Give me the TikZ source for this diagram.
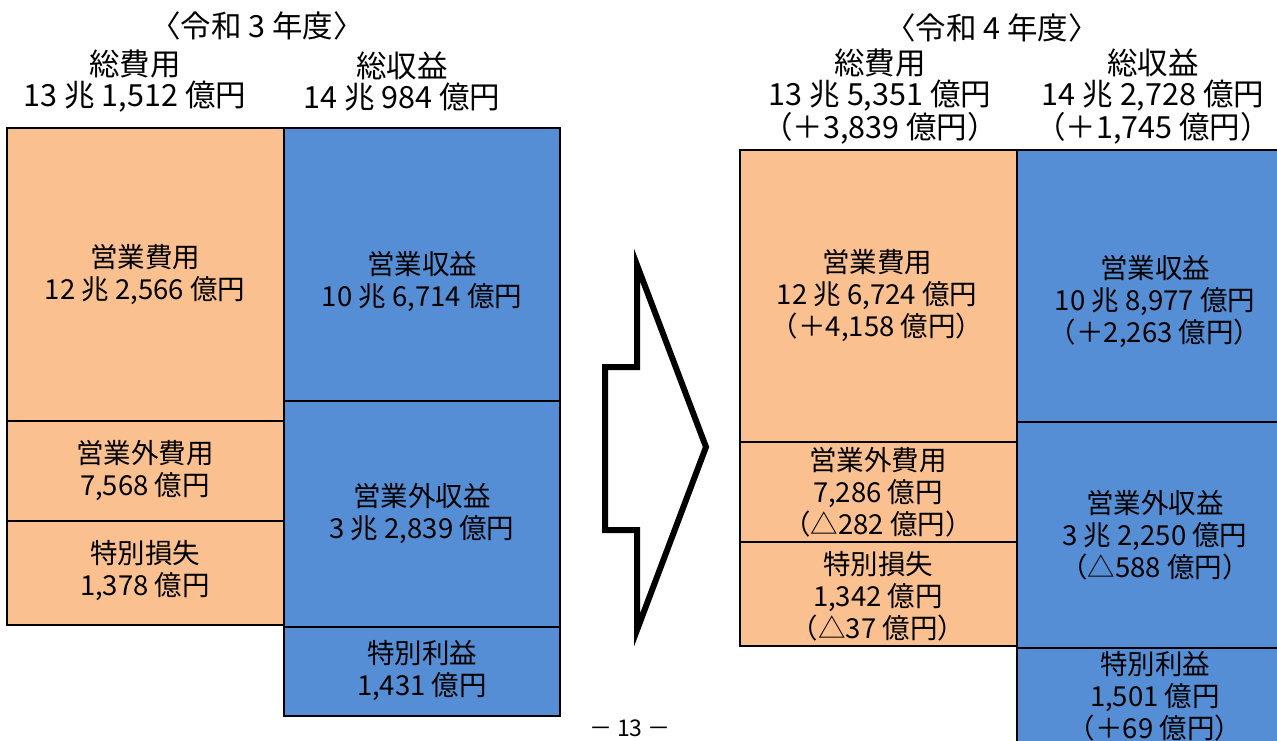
\documentclass[tikz,border=0pt]{standalone}
\usepackage{fontspec}
\setmainfont{Noto Sans CJK JP}
\definecolor{costfill}{HTML}{FAC090}
\definecolor{gainfill}{HTML}{558ED5}
\tikzset{
    costbox/.style={rectangle, draw, line width=2pt, fill=costfill, inner sep=0pt},
    gainbox/.style={rectangle, draw, line width=2pt, fill=gainfill, inner sep=0pt},
    headtext/.style={font=\fontsize{30.5}{31}\selectfont},
}
\begin{document}
\begin{tikzpicture}[x=1pt,y=-1pt]
    \clip (0,0) rectangle (1277,740);
    \fill[white] (0,0) rectangle (1277,740);

    % boxes, R3 (left) and R4 (right)
    \begin{scope}[every node/.style={costbox, minimum width=277pt}]
        \node[minimum height=293pt] (c1) at (145.5,274.5) {};
        \node[minimum height=100pt] (c2) at (145.5,471) {};
        \node[minimum height=104pt] (c3) at (145.5,573) {};
        \node[minimum height=292pt] (c4) at (878.5,296) {};
        \node[minimum height=100pt] (c5) at (878.5,492) {};
        \node[minimum height=104pt] (c6) at (878.5,594) {};
    \end{scope}

    \begin{scope}[every node/.style={gainbox, minimum width=276pt}]
        \node[minimum height=273pt] (r1) at (422,264.5) {};
        \node[minimum height=226pt] (r2) at (422,514) {};
        \node[minimum height=89pt] (r3) at (422,671.5) {};
        \node[minimum height=272pt] (r4) at (1155,286) {};
        \node[minimum height=226pt] (r5) at (1155,535) {};
        \node[minimum height=112pt] (r6) at (1155,704) {};
    \end{scope}

    % arrow
    \draw[line width=6pt, miter limit=20] (605,367) -- (637,367) -- (637,265) -- (706,447)
        -- (637,630) -- (637,530) -- (605,530) -- cycle;

    % texts
    \begin{scope}[every node/.style={align=center, inner sep=0pt, font=\fontsize{27.5}{32}\selectfont}]
        \node[headtext] (y1) at (257,26) {〈令和 3 年度〉};
        \node[headtext] (h1) at (135,81.5) {総費用\\13 兆 1,512 億円};
        \node[headtext] (h2) at (402,81.5) {総収益\\14 兆 984 億円};
        \node (t1) at (145,275) {営業費用\\12 兆 2,566 億円};
        \node (t2) at (145,471) {営業外費用\\7,568 億円};
        \node (t3) at (145,571) {特別損失\\1,378 億円};
        \node (u1) at (422,282) {営業収益\\10 兆 6,714 億円};
        \node (u2) at (422,514) {営業外収益\\3 兆 2,839 億円};
        \node (u3) at (422,671) {特別利益\\1,431 億円};

        \node[headtext] (y2) at (992,28) {〈令和 4 年度〉};
        \node[headtext] (h3) at (880,97) {総費用\\13 兆 5,351 億円\\（＋3,839 億円）};
        \node[headtext] (h4) at (1153,97) {総収益\\14 兆 2,728 億円\\（＋1,745 億円）};
        \node (t4) at (877,296) {営業費用\\12 兆 6,724 億円\\（＋4,158 億円）};
        \node (t5) at (878,492) {営業外費用\\7,286 億円\\（△282 億円）};
        \node (t6) at (878,596) {特別損失\\1,342 億円\\（△37 億円）};
        \node (u4) at (1155,302) {営業収益\\10 兆 8,977 億円\\（＋2,263 億円）};
        \node (u5) at (1155,535) {営業外収益\\3 兆 2,250 億円\\（△588 億円）};
        \node (u6) at (1155,696) {特別利益\\1,501 億円\\（＋69 億円）};

        \node[font=\fontsize{23}{24}\selectfont] (p) at (630,728) {－ 13 －};
    \end{scope}
\end{tikzpicture}
\end{document}
